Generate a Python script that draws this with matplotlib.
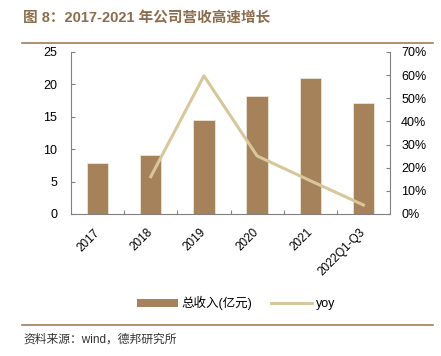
import matplotlib
matplotlib.use("Agg")
import matplotlib.pyplot as plt
import matplotlib.transforms as mtransforms
from matplotlib.lines import Line2D
from matplotlib.patches import Patch

plt.rcParams['font.family'] = ['Liberation Sans', 'Noto Sans CJK SC', 'DejaVu Sans']

categories = ['2017', '2018', '2019', '2020', '2021', '2022Q1-Q3']
revenue = [7.8, 9.1, 14.5, 18.2, 21.0, 17.2]
yoy_idx = [1, 2, 3, 4, 5]
yoy = [16.1, 59.7, 25.1, 14.4, 3.9]
left_ticks = [0, 5, 10, 15, 20, 25]
right_ticks = [0, 10, 20, 30, 40, 50, 60, 70]

bar_color = '#A6825A'
line_color = '#D8C69C'
brown = '#A07D58'

fig = plt.figure(figsize=(4.41, 3.56), dpi=100)
W, H = 441, 356
ax = fig.add_axes([71 / W, 1 - 214 / H, (390 - 71) / W, (214 - 52) / H])
x = list(range(len(categories)))
ax.bar(x, revenue, width=0.4, color=bar_color, edgecolor='#EFE4D6', linewidth=0.6, zorder=2)
ax.set_xlim(-0.5, 5.5)
ax.set_ylim(0, 25)
ax.set_yticks(left_ticks)
ax.set_xticks([i + 0.5 for i in range(len(categories) - 1)])
ax.set_xticks(x, minor=True)
ax.set_xticklabels([])
ax.set_xticklabels(categories, minor=True, rotation=45, ha='right', rotation_mode='anchor', fontsize=8.5)
ax.tick_params(axis='x', which='major', direction='in', length=3, color='#808080')
ax.tick_params(axis='x', which='minor', length=0, pad=9)
ax.tick_params(axis='y', direction='in', length=3, color='#808080', labelsize=9, pad=10)
offset = mtransforms.ScaledTranslation(-4 / 100, 0, fig.dpi_scale_trans)
for lbl in ax.get_xticklabels(minor=True):
    lbl.set_transform(lbl.get_transform() + offset)
for s in ['top', 'right']:
    ax.spines[s].set_visible(False)
for s in ['left', 'bottom']:
    ax.spines[s].set_color('#808080')
    ax.spines[s].set_linewidth(0.8)

ax2 = ax.twinx()
ax2.plot(yoy_idx, yoy, color=line_color, linewidth=2.2, zorder=3)
ax2.set_ylim(0, 70)
ax2.set_yticks(right_ticks)
ax2.set_yticklabels([f'{t}%' for t in right_ticks])
ax2.tick_params(axis='y', direction='in', length=3, color='#808080', labelsize=9, pad=8)
for s in ['top', 'left', 'bottom']:
    ax2.spines[s].set_visible(False)
ax2.spines['right'].set_color('#808080')
ax2.spines['right'].set_linewidth(0.8)

handles = [Patch(facecolor=bar_color, edgecolor='none'),
           Line2D([0], [0], color=line_color, linewidth=2.2)]
fig.legend(handles, ['总收入(亿元)', 'yoy'], loc='center', bbox_to_anchor=(236 / W, 1 - 303 / H),
           ncol=2, frameon=False, fontsize=9, handlelength=3.3, handleheight=0.6, columnspacing=1.5,
           handletextpad=0.3)

fig.text(23 / W, 1 - 18 / H, '图 8：2017-2021 年公司营收高速增长', fontsize=10.5, fontweight='bold',
         color='#8C6C4C', va='center', ha='left')
fig.add_artist(Line2D([22 / W, 433 / W], [1 - 43 / H, 1 - 43 / H], color=brown, linewidth=1.2))
fig.add_artist(Line2D([22 / W, 433 / W], [1 - 325 / H, 1 - 325 / H], color=brown, linewidth=1.2))
fig.text(23 / W, 1 - 340 / H, '资料来源：wind，德邦研究所', fontsize=8.5, color='#333333', va='center', ha='left')

fig.savefig('out.png', dpi=100)
